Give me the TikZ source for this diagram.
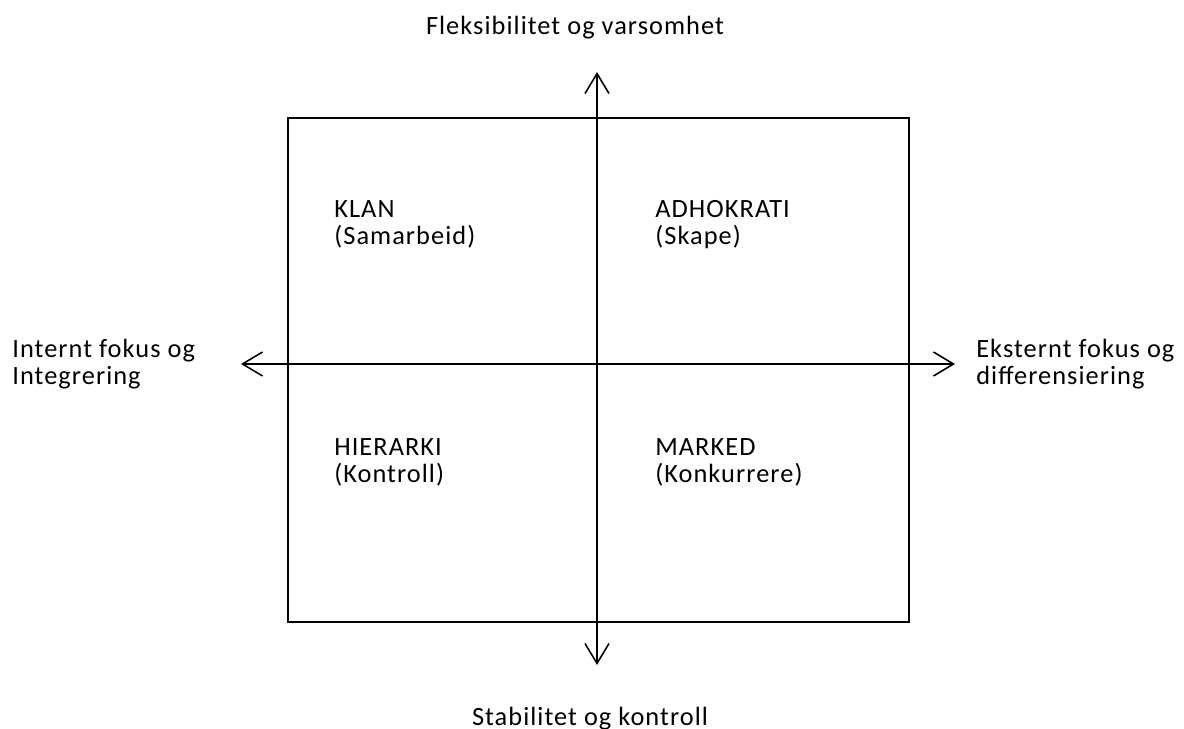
\documentclass[tikz,border=0pt]{standalone}
\usepackage{fontspec}
\setmainfont{Carlito}[LetterSpace=4]
\usetikzlibrary{arrows.meta}
\begin{document}
\begin{tikzpicture}[x=0.02cm, y=-0.02cm,
  axis/.style={line width=0.9pt, -{Straight Barb[length=0.4cm, width=0.48cm, line width=0.9pt]}},
  label/.style={inner sep=0pt, font=\fontsize{15}{15.4}\selectfont, align=left},
  quad/.style={inner sep=0pt, font=\fontsize{15}{15.4}\selectfont, align=left, anchor=base west}]
  \useasboundingbox (0,0) rectangle (1184,729);
  % frame of the four quadrants
  \draw[line width=0.9pt] (288,118) rectangle (909,622);
  % axes
  \coordinate (c) at (597,364);
  \coordinate (top) at (597,72);
  \coordinate (bot) at (597,665);
  \coordinate (lft) at (241,364);
  \coordinate (rgt) at (955,364);
  \draw[axis] (c) -- (top);
  \draw[axis] (c) -- (bot);
  \draw[axis] (c) -- (lft);
  \draw[axis] (c) -- (rgt);
  % axis labels (base anchor sits on the last line)
  \node[label, anchor=base] (flex) at (575,35) {Fleksibilitet og varsomhet};
  \node[label, anchor=base] (stab) at (590,725) {Stabilitet og kontroll};
  \node[label, anchor=base west] (intern) at (12,385) {Internt fokus og\\Integrering};
  \node[label, anchor=base west] (ekstern) at (976,385) {Eksternt fokus og\\differensiering};
  % quadrant names
  \node[quad] (klan) at (334,245) {KLAN\\(Samarbeid)};
  \node[quad] (adho) at (655,245) {ADHOKRATI\\(Skape)};
  \node[quad] (hier) at (334,483) {HIERARKI\\(Kontroll)};
  \node[quad] (mark) at (655,483) {MARKED\\(Konkurrere)};
\end{tikzpicture}
\end{document}
